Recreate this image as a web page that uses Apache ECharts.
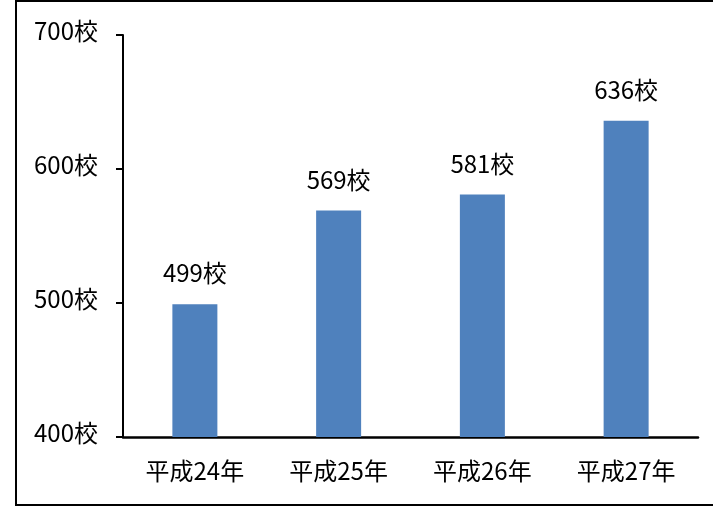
<!DOCTYPE html>
<html>
<head>
<meta charset="utf-8">
<script src="https://cdn.jsdelivr.net/npm/echarts@6/dist/echarts.min.js"></script>
<style>
  html, body { margin: 0; padding: 0; background: #fff; }
  #chart { width: 713px; height: 507px; }
</style>
</head>
<body>
<div id="chart"></div>
<script>
// Number of schools per fiscal year
const categories = ['平成24年', '平成25年', '平成26年', '平成27年'];
const schools = [499, 569, 581, 636];
const yTicks = { min: 400, max: 700, interval: 100 };
const unit = '校';

const FONT = '"Noto Sans CJK JP", sans-serif';
const SIZE = 24;

const chart = echarts.init(document.getElementById('chart'));
chart.setOption({
  animation: false,
  backgroundColor: '#ffffff',
  grid: { left: 123, right: 15, top: 35, bottom: 70, containLabel: false },
  graphic: [{
    type: 'rect',
    shape: { x: 16, y: 1, width: 720, height: 504 },
    style: { fill: 'none', stroke: '#000', lineWidth: 2 },
    silent: true
  }],
  xAxis: {
    type: 'category',
    data: categories,
    axisLine: { lineStyle: { color: '#000', width: 2.5 } },
    axisTick: { show: false },
    axisLabel: { color: '#000', fontSize: SIZE, fontFamily: FONT, margin: 22 }
  },
  yAxis: {
    type: 'value',
    min: yTicks.min,
    max: yTicks.max,
    interval: yTicks.interval,
    splitLine: { show: false },
    axisLine: { show: true, lineStyle: { color: '#000', width: 2 } },
    axisTick: { show: true, length: 7, lineStyle: { color: '#000', width: 2 } },
    axisLabel: {
      color: '#000', fontSize: SIZE, fontFamily: FONT, margin: 25,
      formatter: v => '{t|' + v + unit + '}',
      rich: {
        t: { fontSize: SIZE, fontFamily: FONT, color: '#000', padding: [0, 0, 9, 0] }
      }
    }
  },
  series: [{
    type: 'bar',
    data: schools,
    barWidth: 45,
    itemStyle: { color: '#4F81BD' },
    label: {
      show: true,
      position: 'top',
      distance: 19,
      color: '#000',
      fontSize: SIZE,
      fontFamily: FONT,
      formatter: p => p.value + unit
    }
  }]
});
</script>
</body>
</html>
